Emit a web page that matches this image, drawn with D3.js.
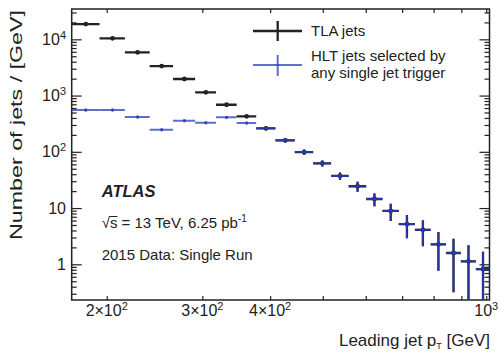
<!DOCTYPE html>
<html>
<head>
<meta charset="utf-8">
<script src="https://cdn.jsdelivr.net/npm/d3@7/dist/d3.min.js"></script>
<style>
  body { margin: 0; background: #fff; }
  text { font-family: "Liberation Sans", Arial, Helvetica, sans-serif; fill: #222; }
</style>
</head>
<body>
<svg id="chart" width="500" height="352"></svg>
<script>
// bin edges of leading jet pT [GeV]
const binEdges = [172, 194, 216, 240, 265, 291, 318, 347, 377, 409, 444, 480, 518, 558,
  601, 644, 690, 739, 790, 843, 898, 957, 1016];

// TLA jets: number of jets / GeV
const tlaValues = [18700, 10400, 5880, 3350, 1970, 1140, 687, 428, 262, 160, 99, 62.5,
  37.2, 24.4, 14.5, 8.9, 5.2, 4.1, 2.27, 1.59, 1.13, 0.82];
const tlaErrors = [500, 300, 170, 100, 60, 35, 22, 14, 19, 14, 11, 7.5,
  5.5, 4.9, 3.7, 3.0, 2.3, 2.0, 1.5, 1.27, 1.05, 0.85];

// HLT jets selected by any single jet trigger
const hltValues = [553, 553, 416, 247, 357, 329, 410, 325, 262, 160, 99, 62.5,
  37.2, 24.4, 14.5, 8.9, 5.2, 4.1, 2.27, 1.59, 1.13, 0.82];
const hltErrors = [33, 33, 25, 15, 21, 20, 25, 20, 19, 14, 11, 7.5,
  5.5, 4.9, 3.7, 3.0, 2.3, 2.0, 1.5, 1.27, 1.05, 0.85];

// axis tick labels: [value, mantissa text, exponent]
const xTickLabels = [[200, '2×10', '2'], [300, '3×10', '2'], [400, '4×10', '2'], [1000, '10', '3']];
const yTickLabels = [[1, '1', ''], [10, '10', ''], [100, '10', '2'], [1000, '10', '3'], [10000, '10', '4']];

const legendNames = ['TLA jets', 'HLT jets selected by', 'any single jet trigger'];

const plotLeft = 71.7, plotRight = 489.5, plotTop = 9, plotBottom = 300;

const black = '#222';
const blue = 'rgba(40, 60, 190, 0.75)';

const svg = d3.select('#chart');

const x = d3.scaleLog().domain([172.4, 1014]).range([plotLeft, plotRight]);
const y = d3.scaleLog().domain([0.232, 34600]).range([plotBottom, plotTop]);

svg.append('defs').append('clipPath').attr('id', 'plot-clip')
  .append('rect')
  .attr('x', plotLeft).attr('y', plotTop)
  .attr('width', plotRight - plotLeft).attr('height', plotBottom - plotTop);

// ticks (ROOT style: inward, mirrored on all sides)
const xTicks = x.ticks();
svg.append('g').attr('transform', `translate(0,${plotBottom})`)
  .call(d3.axisBottom(x).tickValues(xTicks).tickSize(-4).tickFormat(''))
  .call(g => g.select('.domain').remove());
svg.append('g').attr('transform', `translate(0,${plotTop})`)
  .call(d3.axisTop(x).tickValues(xTicks).tickSize(-4).tickFormat(''))
  .call(g => g.select('.domain').remove());

const yTicks = y.ticks();
const isDecade = v => Math.abs(Math.log10(v) - Math.round(Math.log10(v))) < 1e-6;
const yMajor = yTicks.filter(isDecade);
const yMinor = yTicks.filter(v => !isDecade(v));

[[plotLeft, d3.axisLeft], [plotRight, d3.axisRight]].forEach(([pos, axisFn]) => {
  svg.append('g').attr('transform', `translate(${pos},0)`)
    .call(axisFn(y).tickValues(yMajor).tickSize(-10).tickFormat(''))
    .call(g => g.select('.domain').remove());
  svg.append('g').attr('transform', `translate(${pos},0)`)
    .call(axisFn(y).tickValues(yMinor).tickSize(-5).tickFormat(''))
    .call(g => g.select('.domain').remove());
});

svg.selectAll('.tick line').attr('stroke', black).attr('stroke-width', 1.2);

// frame
svg.append('rect')
  .attr('x', plotLeft).attr('y', plotTop)
  .attr('width', plotRight - plotLeft).attr('height', plotBottom - plotTop)
  .attr('fill', 'none').attr('stroke', black).attr('stroke-width', 1.5);

// tick labels
const xLab = svg.append('g').selectAll('text')
  .data(xTickLabels)
  .enter().append('text')
  .attr('x', d => x(d[0]))
  .attr('y', 316)
  .attr('text-anchor', 'middle')
  .attr('font-size', '16px');
xLab.append('tspan').text(d => d[1]);
xLab.append('tspan').attr('dy', -6).attr('font-size', '11px').text(d => d[2]);

const yLab = svg.append('g').selectAll('text')
  .data(yTickLabels)
  .enter().append('text')
  .attr('x', 66)
  .attr('y', d => y(d[0]) + 5.5)
  .attr('text-anchor', 'end')
  .attr('font-size', '16px');
yLab.append('tspan').text(d => d[1]);
yLab.append('tspan').attr('dy', -6).attr('font-size', '11px').text(d => d[2]);

// axis titles
const xTitle = svg.append('text')
  .attr('x', 490).attr('y', 346)
  .attr('text-anchor', 'end')
  .attr('font-size', '17px');
xTitle.append('tspan').text('Leading jet p');
xTitle.append('tspan').attr('dy', 3).attr('font-size', '9px').text('T');
xTitle.append('tspan').attr('dy', -3).text(' [GeV]');

svg.append('text')
  .attr('transform', 'translate(22,10) rotate(-90)')
  .attr('text-anchor', 'end')
  .attr('font-size', '17px')
  .attr('textLength', 230)
  .attr('lengthAdjust', 'spacingAndGlyphs')
  .text('Number of jets / [GeV]');

// data
const plot = svg.append('g').attr('clip-path', 'url(#plot-clip)');

function drawSeries(values, errors, color, lw, r) {
  const bins = values.map((v, i) => ({
    lo: binEdges[i], hi: binEdges[i + 1], v: v, e: errors[i],
    c: (binEdges[i] + binEdges[i + 1]) / 2
  }));
  const g = plot.append('g');
  g.selectAll('line.h')
    .data(bins)
    .enter().append('line')
    .attr('x1', d => x(d.lo)).attr('x2', d => x(d.hi))
    .attr('y1', d => y(d.v)).attr('y2', d => y(d.v))
    .attr('stroke', color).attr('stroke-width', lw);
  g.selectAll('line.v')
    .data(bins)
    .enter().append('line')
    .attr('x1', d => x(d.c)).attr('x2', d => x(d.c))
    .attr('y1', d => y(d.v + d.e))
    .attr('y2', d => d.v - d.e > 0.05 ? y(d.v - d.e) : plotBottom + 2)
    .attr('stroke', color).attr('stroke-width', lw);
  g.selectAll('circle')
    .data(bins)
    .enter().append('circle')
    .attr('cx', d => x(d.c)).attr('cy', d => y(d.v))
    .attr('r', r)
    .attr('fill', color);
}

drawSeries(tlaValues, tlaErrors, black, 2.3, 2.4);
drawSeries(hltValues, hltErrors, blue, 2, 1.5);

// legend
const legend = svg.append('g');
[[31, 21, 41, black, 2.3], [65, 55, 76, blue, 2]].forEach(([ly, v1, v2, color, lw]) => {
  legend.append('line').attr('x1', 253).attr('x2', 302).attr('y1', ly).attr('y2', ly)
    .attr('stroke', color).attr('stroke-width', lw);
  legend.append('line').attr('x1', 277.7).attr('x2', 277.7).attr('y1', v1).attr('y2', v2)
    .attr('stroke', color).attr('stroke-width', lw);
});
legend.selectAll('text')
  .data(legendNames)
  .enter().append('text')
  .attr('x', 311)
  .attr('y', (d, i) => [35.7, 60.7, 78][i])
  .attr('font-size', '15px')
  .text(d => d);

// labels
svg.append('text')
  .attr('x', 101.7).attr('y', 196.7)
  .attr('font-size', '16.5px')
  .attr('font-weight', 'bold')
  .attr('font-style', 'italic')
  .text('ATLAS');

const energy = svg.append('text')
  .attr('x', 101.7).attr('y', 228)
  .attr('font-size', '15px');
energy.append('tspan').text('√');
energy.append('tspan').text('s');
energy.append('tspan').text(' = 13 TeV, 6.25 pb');
energy.append('tspan').attr('dy', -6).attr('font-size', '10px').text('-1');

// overline on the s under the root sign
const sBox = energy.node().getExtentOfChar(1);
svg.append('line')
  .attr('x1', sBox.x - 0.5).attr('x2', sBox.x + sBox.width)
  .attr('y1', 216.5).attr('y2', 216.5)
  .attr('stroke', black).attr('stroke-width', 1);

svg.append('text')
  .attr('x', 101.7).attr('y', 259.5)
  .attr('font-size', '15px')
  .text('2015 Data: Single Run');
</script>
</body>
</html>
